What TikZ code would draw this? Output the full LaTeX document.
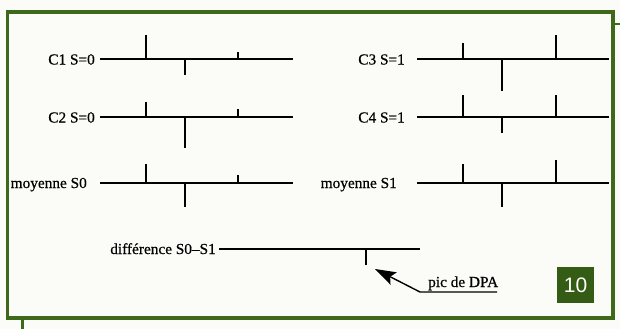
\documentclass[tikz,border=0pt]{standalone}
\usepackage{fontspec}
\setmainfont{Liberation Serif}[FakeBold=0.6]
\newfontfamily\badgefont{Liberation Sans}
\usetikzlibrary{arrows.meta,calc}
\definecolor{framegreen}{RGB}{62,104,26}
\definecolor{badgegreen}{RGB}{52,92,20}
\definecolor{paper}{RGB}{251,251,248}
\tikzset{
  lbl/.style={inner sep=0pt, anchor=base east, font=\fontsize{15.3}{17}\selectfont},
  sig/.style={line width=1.4pt, black},
  tick/.style={line width=1.7pt, black},
  frame/.style={line width=3.4pt, framegreen},
}
\begin{document}
\begin{tikzpicture}[x=1pt,y=-1pt]
\useasboundingbox[fill=paper] (0,0) rectangle (620,329);
% frame
\draw[frame] (7.5,12) rectangle (613,318);
\draw[frame] (22.5,318) -- (22.5,329);
\draw[framegreen,line width=2.5pt] (613,24) -- (620,24);
% labels
\node[lbl] (c1) at (95,64.5) {C1 S=0};
\node[lbl] (c2) at (95,122.5) {C2 S=0};
\node[lbl] (m0) at (87,188) {moyenne S0};
\node[lbl] (c3) at (405,64.5) {C3 S=1};
\node[lbl] (c4) at (405,122.5) {C4 S=1};
\node[lbl] (m1) at (397,188) {moyenne S1};
\node[lbl] (df) at (216,254) {différence S0–S1};
\node[lbl, anchor=base west] (pic) at (428,287) {pic de DPA};
% left traces
\draw[sig] (100,59) -- (293,59);
\draw[tick] (146,59) -- (146,35) (185,59) -- (185,75) (238,59) -- (238,52);
\draw[sig] (100,117) -- (293,117);
\draw[tick] (146,117) -- (146,102) (185,117) -- (185,148) (238,117) -- (238,109);
\draw[sig] (100,183) -- (293,183);
\draw[tick] (146,183) -- (146,164) (185,183) -- (185,207) (238,183) -- (238,175);
% right traces
\draw[sig] (417,59) -- (609,59);
\draw[tick] (463,59) -- (463,43) (502,59) -- (502,91) (556,59) -- (556,35);
\draw[sig] (417,117) -- (609,117);
\draw[tick] (463,117) -- (463,95) (502,117) -- (502,133) (556,117) -- (556,95);
\draw[sig] (417,183) -- (609,183);
\draw[tick] (463,183) -- (463,164) (502,183) -- (502,207) (556,183) -- (556,160);
% difference
\draw[sig] (219,249) -- (420,249);
\draw[tick] (366,249) -- (366,265);
% arrow to peak
\coordinate (peak) at (375,269);
\coordinate (tail) at (420,292);
\coordinate (uend) at (497,292);
\coordinate (hb) at ($(peak)!21pt!(tail)$);
\coordinate (hn) at ($(peak)!17pt!(tail)$);
\draw[sig] (uend) -- (tail) -- (hn);
\fill[black] (peak) -- ($(hb)!7pt!90:(peak)$) -- (hn) -- ($(hb)!7pt!-90:(peak)$) -- cycle;
% badge
\node[fill=badgegreen, minimum width=37pt, minimum height=36pt, inner sep=0pt,
      text=white, font=\badgefont\fontsize{21}{23}\selectfont] (badge) at (575.5,285) {10};
\end{tikzpicture}
\end{document}
